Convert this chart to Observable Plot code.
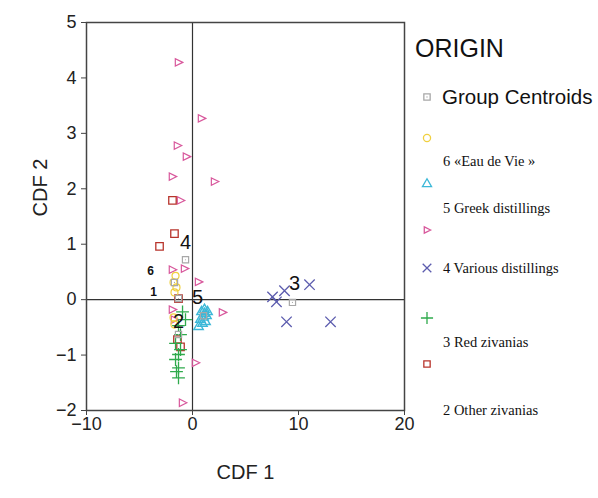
<!DOCTYPE html>
<html>
<head>
<meta charset="utf-8">
<script src="https://cdn.jsdelivr.net/npm/d3@7"></script>
<script src="https://cdn.jsdelivr.net/npm/@observablehq/plot@0.6"></script>
<style>
  html, body { margin: 0; padding: 0; background: #fff; }
  #chart { position: relative; width: 598px; height: 498px; }
</style>
</head>
<body>
<div id="chart"></div>
<script>
// ---- data ----
const eauX = [-1.60, -1.79, -1.51, -1.70, -1.79, -1.70];
const eauY = [0.43, 0.31, 0.22, 0.13, -0.32, -0.45];
const greekX = [0.85, 1.13, 1.32, 1.04, 0.75, 1.23, 1.42, 0.94, 0.57, 1.13];
const greekY = [-0.22, -0.25, -0.29, -0.32, -0.36, -0.40, -0.22, -0.43, -0.49, -0.18];
const pinkX = [-1.32, 0.85, -1.42, -0.57, -1.89, 2.08, -1.13, -1.89, -0.75, 0.57, 2.83, -1.89, -1.70, 0.28, -0.94];
const pinkY = [4.28, 3.27, 2.78, 2.58, 2.22, 2.13, 1.79, 0.54, 0.56, 0.32, -0.23, -0.18, -0.36, -1.14, -1.86];
const variousX = [7.55, 7.92, 8.68, 11.04, 8.87, 13.02];
const variousY = [0.05, -0.04, 0.16, 0.27, -0.40, -0.40];
const redzX = [-0.94, -0.66, -1.32, -1.13, -1.60, -1.32, -1.60, -1.32, -1.51, -1.32, -1.13];
const redzY = [-0.22, -0.36, -0.47, -0.63, -0.79, -0.99, -1.08, -1.23, -1.30, -1.41, -0.90];
const otherX = [-1.89, -1.70, -3.11, -1.32, -1.42, -1.13];
const otherY = [1.79, 1.19, 0.96, 0.02, -0.72, -0.85];
const centX = [-0.66, 9.43, -1.70, -1.32, 1.04, -1.32];
const centY = [0.72, -0.05, 0.31, 0.02, -0.29, -0.63];
const labText = ["4", "3", "5", "2", "6", "1"];
const labX = [-0.66, 9.62, 0.47, -1.32, -3.96, -3.68];
const labY = [1.03, 0.29, 0.04, -0.40, 0.51, 0.13];
const labBig = [true, true, true, true, false, false];
const xTicks = [-10, 0, 10, 20];
const yTicks = [-2, -1, 0, 1, 2, 3, 4, 5];
const legendTitle = "ORIGIN";
const legendLabels = ["Group Centroids", "6 «Eau de Vie »", "5 Greek distillings", "4 Various distillings", "3 Red zivanias", "2 Other zivanias"];

// ---- colours ----
const C = {
  cent: "#a8a8a8", eau: "#f0d040", greek: "#3cb8d8", pink: "#d8589c",
  various: "#5c5cae", redz: "#2faa4c", other: "#b8342c"
};

const rightTri = {
  draw(ctx, size) {
    const h = Math.sqrt(size / 1.1);
    ctx.moveTo(h * 0.6, 0);
    ctx.lineTo(-h * 0.45, -h * 0.52);
    ctx.lineTo(-h * 0.45, h * 0.52);
    ctx.closePath();
  }
};

const pts = (xs, ys) => xs.map((x, i) => ({x, y: ys[i]}));
const labels = labText.map((t, i) => ({t, x: labX[i], y: labY[i], big: labBig[i]}));

const plot = Plot.plot({
  width: 598, height: 498,
  marginLeft: 86, marginRight: 194, marginTop: 22, marginBottom: 88,
  x: {domain: [-10, 20]},
  y: {domain: [-2, 5]},
  style: {fontFamily: "Liberation Sans, Arial, sans-serif", background: "#fff", color: "#222"},
  marks: [
    Plot.ruleX([0], {stroke: "#333", strokeWidth: 1.2}),
    Plot.ruleY([0], {stroke: "#333", strokeWidth: 1.2}),
    Plot.frame({stroke: "#444", strokeWidth: 1.5}),
    Plot.axisX({ticks: xTicks, tickFormat: d3.format("d"), tickSize: 5, tickPadding: 2, fontSize: 18, label: null, stroke: "#444"}),
    Plot.axisY({ticks: yTicks, tickFormat: d3.format("d"), tickSize: 5, tickPadding: 5, fontSize: 18, label: null, stroke: "#444"}),
    Plot.text(["CDF 1"], {frameAnchor: "bottom", dy: 68, fontSize: 20, fill: "#222"}),
    Plot.text(["CDF 2"], {frameAnchor: "left", dx: -46, rotate: -90, fontSize: 20, fill: "#222"}),
    Plot.dot(pts(pinkX, pinkY), {x: "x", y: "y", symbol: rightTri, r: 4.2, stroke: C.pink, strokeWidth: 1.2}),
    Plot.dot(pts(otherX, otherY), {x: "x", y: "y", symbol: "square", r: 4.2, stroke: C.other, strokeWidth: 1.3}),
    Plot.dot(pts(eauX, eauY), {x: "x", y: "y", symbol: "circle", r: 3.5, stroke: C.eau, strokeWidth: 1.2}),
    Plot.dot(pts(redzX, redzY), {x: "x", y: "y", symbol: "plus", r: 4.2, stroke: C.redz, strokeWidth: 1.3}),
    Plot.dot(pts(greekX, greekY), {x: "x", y: "y", symbol: "triangle", r: 3.5, stroke: C.greek, strokeWidth: 1.4}),
    Plot.dot(pts(variousX, variousY), {x: "x", y: "y", symbol: "times", r: 4.8, stroke: C.various, strokeWidth: 1.3}),
    Plot.dot(pts(centX, centY), {x: "x", y: "y", symbol: "square", r: 3.5, stroke: C.cent, strokeWidth: 1.2}),
    Plot.dot(pts(centX, centY), {x: "x", y: "y", r: 0.6, fill: C.cent}),
    Plot.text(labels.filter(d => d.big), {x: "x", y: "y", text: "t", fontSize: 20, fill: "#111"}),
    Plot.text(labels.filter(d => !d.big), {x: "x", y: "y", text: "t", fontSize: 12, fontWeight: "bold", fill: "#111"})
  ]
});
document.getElementById("chart").appendChild(plot);

// ---- legend ----
const svg = d3.select(plot);
const lg = svg.append("g").attr("text-anchor", "start");
lg.append("text").attr("x", 415).attr("y", 48).attr("dy", "0.35em").attr("text-anchor", "start")
  .attr("font-family", "Liberation Sans, Arial, sans-serif").attr("font-size", 25).attr("fill", "#111")
  .text(legendTitle);

const symRows = [
  {sym: d3.symbolSquare, size: 40, color: C.cent, y: 97, dot: true},
  {sym: d3.symbolCircle, size: 40, color: C.eau, y: 138},
  {sym: d3.symbolTriangle, size: 36, color: C.greek, y: 184},
  {sym: rightTri, size: 40, color: C.pink, y: 230},
  {sym: d3.symbolTimes, size: 50, color: C.various, y: 268},
  {sym: d3.symbolPlus, size: 50, color: C.redz, y: 318},
  {sym: d3.symbolSquare, size: 40, color: C.other, y: 364}
];
symRows.forEach(r => {
  lg.append("path").attr("transform", `translate(427,${r.y})`)
    .attr("d", d3.symbol(r.sym, r.size)()).attr("fill", "none")
    .attr("stroke", r.color).attr("stroke-width", 1.3);
  if (r.dot) lg.append("circle").attr("cx", 427).attr("cy", r.y).attr("r", 0.7).attr("fill", r.color);
});

const textRows = [
  {y: 97, size: 20.5, serif: false},
  {y: 161, size: 14.5, serif: true},
  {y: 208, size: 14.5, serif: true},
  {y: 268, size: 14.5, serif: true},
  {y: 342, size: 14.5, serif: true},
  {y: 410, size: 14.5, serif: true}
];
textRows.forEach((r, i) => {
  lg.append("text").attr("x", r.serif ? 443 : 442).attr("y", r.y).attr("dy", "0.35em")
    .attr("text-anchor", "start")
    .attr("font-family", r.serif ? "Liberation Serif, Times New Roman, serif" : "Liberation Sans, Arial, sans-serif")
    .attr("font-size", r.size).attr("fill", "#111")
    .text(legendLabels[i]);
});
</script>
</body>
</html>
